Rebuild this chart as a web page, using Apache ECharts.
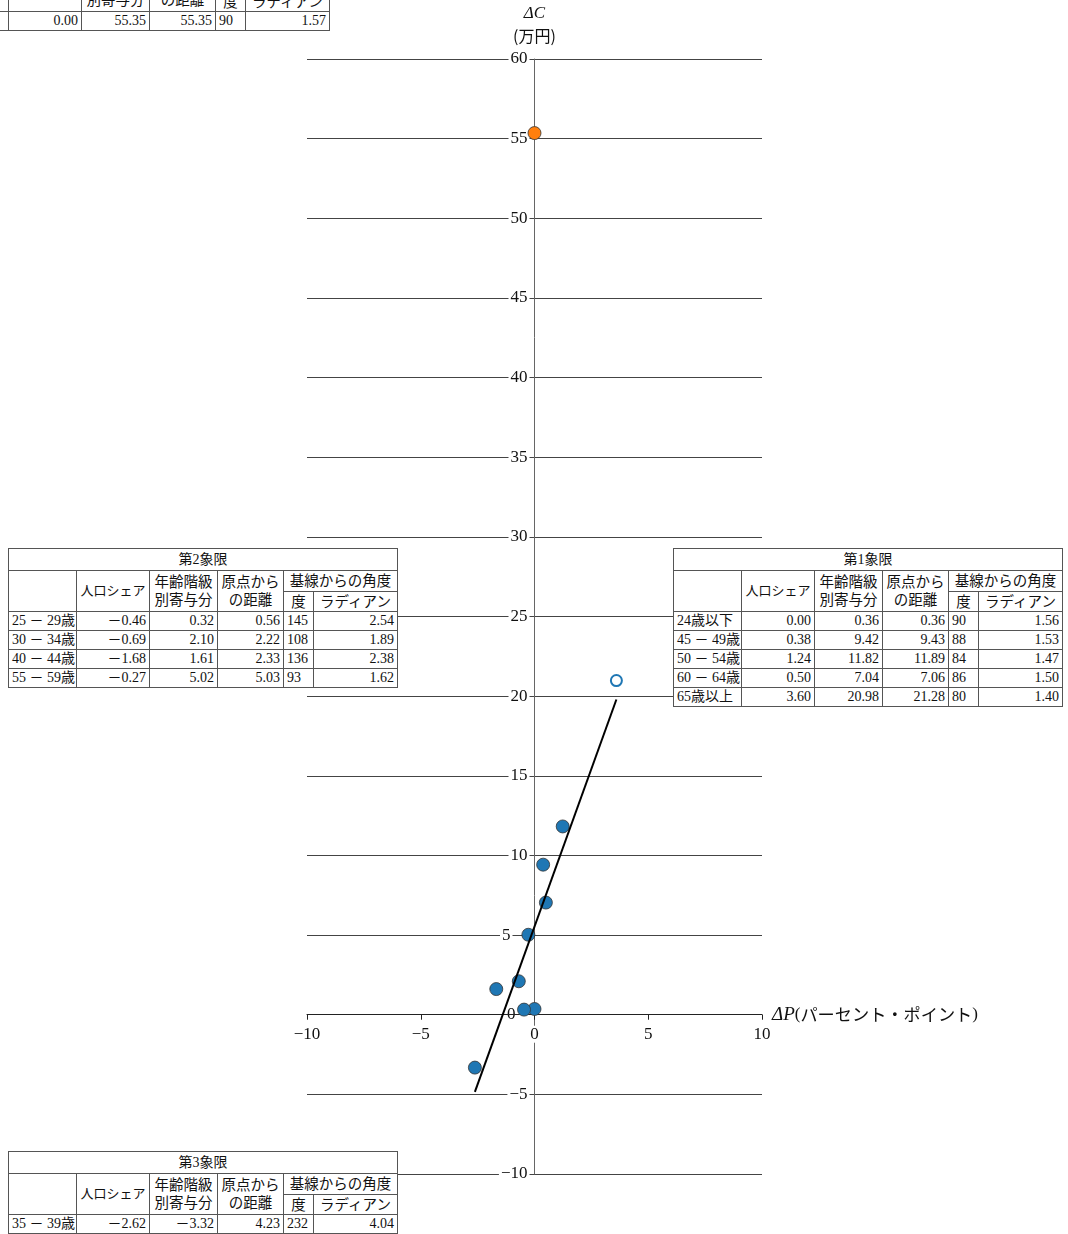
<!DOCTYPE html>
<html>
<head>
<meta charset="utf-8">
<script src="https://cdn.jsdelivr.net/npm/echarts@6/dist/echarts.min.js"></script>
<style>
html, body { margin: 0; padding: 0; background: #fff; overflow: hidden; }
#chart { position: absolute; left: 0; top: 0; width: 1068px; height: 1234px; }
table.q {
  position: absolute; border-collapse: collapse; table-layout: fixed;
  background: #fff; color: #111;
  font-family: "Liberation Serif", "Noto Sans CJK JP", serif; font-size: 14px;
}
table.q td { border: 1px solid #555; padding: 0 3px; white-space: nowrap; overflow: hidden; line-height: 16px; }
table.q td.t { text-align: center; font-size: 14px; }
table.q td.h { text-align: center; font-size: 14.5px; line-height: 18px; padding: 0 1px; }
table.q td.h.s { font-size: 13px; }
table.q td.lab { text-align: left; padding-left: 3px; }
table.q td.num { text-align: right; }
table.q td.deg { text-align: left; }
</style>
</head>
<body>
<div id="chart"></div>
<script>
// Age groups: change in population share (ΔP, pp) and contribution to ΔC (万円)
const groups   = ['24歳以下', '45 － 49歳', '50 － 54歳', '60 － 64歳', '65歳以上',
                  '25 － 29歳', '30 － 34歳', '40 － 44歳', '55 － 59歳', '35 － 39歳'];
const shares   = [0.00, 0.38, 1.24, 0.50, 3.60, -0.46, -0.69, -1.68, -0.27, -2.62];
const contribs = [0.36, 9.42, 11.82, 7.04, 20.98, 0.32, 2.10, 1.61, 5.02, -3.32];
const dists    = [0.36, 9.43, 11.89, 7.06, 21.28, 0.56, 2.22, 2.33, 5.03, 4.23];
const degrees  = [90, 88, 84, 86, 80, 145, 108, 136, 93, 232];
const radians  = [1.56, 1.53, 1.47, 1.50, 1.40, 2.54, 1.89, 2.38, 1.62, 4.04];
const quadrant = [1, 1, 1, 1, 1, 2, 2, 2, 2, 3];
const hollowGroups = ['65歳以上'];

// Overall change
const totalLabel = '合計';
const totalShare = 0.00, totalContrib = 55.35, totalDist = 55.35, totalDeg = 90, totalRad = 1.57;

// Fitted line end points
const fitLine = [[-2.62, -4.84], [3.60, 19.79]];

// Axis settings
const xTicks = { min: -10, max: 10, step: 5 };
const yTicks = { min: -10, max: 60, step: 5 };

// y labels nudged left so the markers near the axis do not hide them
const yLabelGap = { 5: 17, 0: 12 };

const SERIF = '"Liberation Serif", "Noto Sans CJK JP", serif';
const JP = '"Noto Sans CJK JP", sans-serif';
const minus = v => (v < 0 ? '\u2212' + Math.abs(v) : String(v));
const signed = v => (v < 0 ? '－' + Math.abs(v).toFixed(2) : v.toFixed(2));

const filled = [], hollow = [];
groups.forEach((g, i) => {
  (hollowGroups.includes(g) ? hollow : filled).push([shares[i], contribs[i]]);
});

const yRich = {
  b: { fontFamily: SERIF, fontSize: 17, color: '#111', backgroundColor: '#fff', padding: [0, 2] }
};
Object.keys(yLabelGap).forEach(k => { yRich['g' + k] = { width: yLabelGap[k] }; });

const chart = echarts.init(document.getElementById('chart'), null, { renderer: 'canvas' });
chart.setOption({
  animation: false,
  backgroundColor: '#fff',
  grid: { left: 307, right: 306, top: 59, bottom: 60 },
  xAxis: {
    type: 'value', min: xTicks.min, max: xTicks.max, interval: xTicks.step,
    axisLine: { onZero: false, lineStyle: { color: '#222', width: 1 } },
    axisTick: { show: true, length: 5, lineStyle: { color: '#222' } },
    axisLabel: {
      fontFamily: SERIF, fontSize: 17, color: '#111', margin: 11, formatter: minus,
      backgroundColor: '#fff', padding: [0, 1], showMinLabel: true, showMaxLabel: true, hideOverlap: false
    },
    splitLine: { show: false },
    name: '{it|ΔP}{p|(}{jp|パーセント・ポイント}{p|)}',
    nameLocation: 'end', nameGap: 10,
    nameTextStyle: {
      verticalAlign: 'middle',
      rich: {
        it: { fontFamily: 'Liberation Serif', fontStyle: 'italic', fontSize: 19, color: '#111' },
        p: { fontFamily: 'Liberation Serif', fontSize: 17, color: '#111' },
        jp: { fontFamily: JP, fontSize: 17.2, color: '#111' }
      }
    },
    z: 3
  },
  yAxis: {
    type: 'value', min: yTicks.min, max: yTicks.max, interval: yTicks.step,
    axisLine: { onZero: false, lineStyle: { color: '#666', width: 1 } },
    axisTick: { show: false },
    axisLabel: {
      margin: 5, showMinLabel: true, showMaxLabel: true, hideOverlap: false,
      formatter: v => (yLabelGap[v] !== undefined ? `{b|${minus(v)}}{g${v}|}` : `{b|${minus(v)}}`),
      rich: yRich
    },
    splitLine: { show: true, lineStyle: { color: '#444', width: 1 } },
    name: '{it|ΔC}\n{jp|(万円)}',
    nameLocation: 'end', nameGap: 12,
    nameTextStyle: {
      align: 'center',
      rich: {
        it: { fontFamily: 'Liberation Serif', fontStyle: 'italic', fontSize: 17, color: '#111', lineHeight: 22, align: 'center' },
        jp: { fontFamily: JP, fontSize: 16, color: '#111', lineHeight: 22, align: 'center' }
      }
    }
  },
  series: [
    {
      type: 'scatter', data: filled, symbolSize: 13, z: 3,
      itemStyle: { color: '#1f77b4', borderColor: '#333', borderWidth: 0.8, opacity: 1 }
    },
    {
      type: 'scatter', data: hollow, symbolSize: 11, z: 3,
      itemStyle: { color: '#fff', borderColor: '#1f77b4', borderWidth: 2, opacity: 1 }
    },
    {
      type: 'scatter', data: [[totalShare, totalContrib]], symbolSize: 13, z: 3,
      itemStyle: { color: '#ff7f0e', borderColor: '#333', borderWidth: 0.8, opacity: 1 }
    },
    {
      type: 'line', data: fitLine, symbol: 'none', z: 4,
      lineStyle: { color: '#000', width: 2 }
    }
  ]
});

// Move both axes (with their labels) so they cross at the origin
const origin = chart.convertToPixel({ gridIndex: 0 }, [0, 0]);
const corner = chart.convertToPixel({ gridIndex: 0 }, [xTicks.min, yTicks.min]);
chart.setOption({
  xAxis: { offset: -(corner[1] - origin[1]) },
  yAxis: { offset: -(origin[0] - corner[0]) }
});

// Quadrant tables
const colW = [68, 73, 68, 66, 30, 84];
function buildTable(title, rows, left, top) {
  const t = document.createElement('table');
  t.className = 'q';
  t.style.left = left + 'px';
  t.style.top = top + 'px';
  t.style.width = colW.reduce((a, b) => a + b, 0) + 'px';
  let html = '<colgroup>' + colW.map(w => `<col style="width:${w}px">`).join('') + '</colgroup>';
  html += `<tr style="height:22px"><td class="t" colspan="6">${title}</td></tr>`;
  html += '<tr style="height:21px"><td rowspan="2"></td>' +
          '<td class="h s" rowspan="2">人口シェア</td>' +
          '<td class="h" rowspan="2">年齢階級<br>別寄与分</td>' +
          '<td class="h" rowspan="2">原点から<br>の距離</td>' +
          '<td class="h" colspan="2">基線からの角度</td></tr>';
  html += '<tr style="height:20px"><td class="h">度</td><td class="h">ラディアン</td></tr>';
  rows.forEach(r => {
    html += `<tr style="height:19px"><td class="lab">${r.label}</td>` +
            `<td class="num">${signed(r.share)}</td>` +
            `<td class="num">${signed(r.contrib)}</td>` +
            `<td class="num">${r.dist.toFixed(2)}</td>` +
            `<td class="deg">${r.deg}</td>` +
            `<td class="num">${r.rad.toFixed(2)}</td></tr>`;
  });
  t.innerHTML = html;
  document.body.appendChild(t);
}
function rowsFor(q) {
  const out = [];
  groups.forEach((g, i) => {
    if (quadrant[i] === q) out.push({ label: g, share: shares[i], contrib: contribs[i], dist: dists[i], deg: degrees[i], rad: radians[i] });
  });
  return out;
}
buildTable(totalLabel, [{ label: totalLabel, share: totalShare, contrib: totalContrib, dist: totalDist, deg: totalDeg, rad: totalRad }], -60, -52);
buildTable('第2象限', rowsFor(2), 8, 548);
buildTable('第1象限', rowsFor(1), 673, 548);
buildTable('第3象限', rowsFor(3), 8, 1151);
</script>
</body>
</html>
